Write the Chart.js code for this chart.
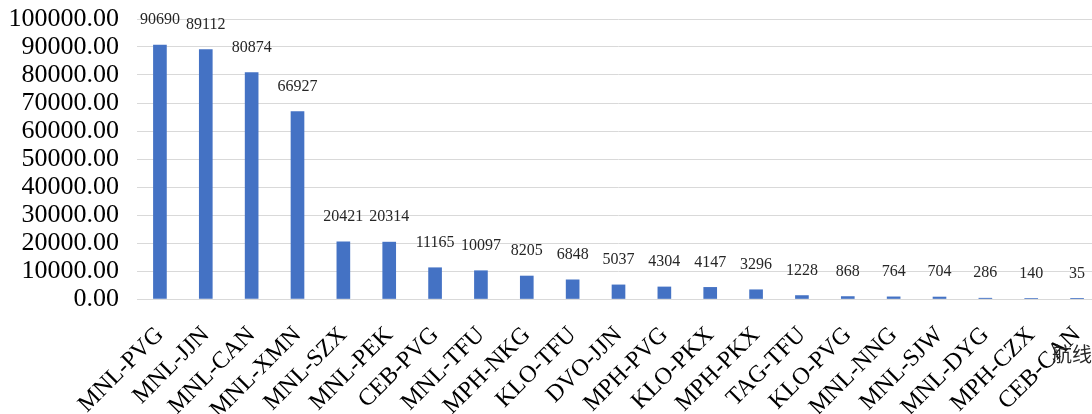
<!DOCTYPE html>
<html>
<head>
<meta charset="utf-8">
<script src="https://cdn.jsdelivr.net/npm/chart.js@4"></script>
<style>
    html, body { margin: 0; padding: 0; background: #ffffff; overflow: hidden; }
    #wrap { width: 1100px; height: 414px; position: relative; }
</style>
</head>
<body>
<div id="wrap"><canvas id="chart"></canvas></div>
<script>
// Routes and passenger counts.
const routes = [
    'MNL-PVG', 'MNL-JJN', 'MNL-CAN', 'MNL-XMN', 'MNL-SZX', 'MNL-PEK', 'CEB-PVG',
    'MNL-TFU', 'MPH-NKG', 'KLO-TFU', 'DVO-JJN', 'MPH-PVG', 'KLO-PKX', 'MPH-PKX',
    'TAG-TFU', 'KLO-PVG', 'MNL-NNG', 'MNL-SJW', 'MNL-DYG', 'MPH-CZX', 'CEB-CAN',
];
const passengers = [
    90690, 89112, 80874, 66927, 20421, 20314, 11165,
    10097, 8205, 6848, 5037, 4304, 4147, 3296,
    1228, 868, 764, 704, 286, 140, 35,
];
const yTicks = [0, 10000, 20000, 30000, 40000, 50000, 60000, 70000, 80000, 90000, 100000];
const axisTitle = '航线';

const serif = '"Liberation Serif", "Times New Roman", serif';
const barBlue = '#4472c4';
const gridGray = '#d9d9d9';

/**
 * Plain value labels above each bar plus the "航线" axis title tucked into
 * the bottom-right corner, the way the source spreadsheet places it.
 */
const valueLabels = {
    id: 'valueLabels',
    afterDatasetsDraw(chart) {
        const { ctx } = chart;
        const meta = chart.getDatasetMeta(0);
        ctx.save();
        ctx.fillStyle = '#262626';
        ctx.font = `16px ${serif}`;
        ctx.textAlign = 'center';
        ctx.textBaseline = 'middle';
        meta.data.forEach((bar, i) => {
            ctx.fillText(String(passengers[i]), bar.x, bar.y - 25);
        });
        ctx.font = '20px "Noto Sans CJK SC", sans-serif';
        ctx.textAlign = 'left';
        ctx.fillText(axisTitle, 1052, chart.chartArea.bottom + 55);
        ctx.restore();
    },
};

new Chart(document.getElementById('chart'), {
    type: 'bar',
    data: {
        labels: routes,
        datasets: [
            {
                data: passengers,
                backgroundColor: barBlue,
                barThickness: 13,
            },
        ],
    },
    options: {
        responsive: true,
        maintainAspectRatio: false,
        animation: false,
        layout: { padding: { top: 19, right: 0, left: 0, bottom: 0 } },
        scales: {
            y: {
                min: 0,
                max: 100000,
                afterBuildTicks: (s) => { s.ticks = yTicks.map((v) => ({ value: v })); },
                afterFit: (s) => {
                    s.width = 137;
                    // keep Chart.js from reserving room for the half-height of the top label
                    s.paddingTop = 0;
                    s.paddingBottom = 0;
                },
                border: { display: false },
                grid: { color: gridGray, drawTicks: false },
                ticks: {
                    color: '#000000',
                    autoSkip: false,
                    padding: 18,
                    font: { family: serif, size: 26 },
                    callback: (v) => Number(v).toFixed(2),
                },
            },
            x: {
                afterFit: (s) => {
                    s.height = 115;
                    s.paddingLeft = 0;
                    s.paddingRight = 0;
                },
                border: { color: gridGray },
                grid: { display: false },
                ticks: {
                    color: '#000000',
                    autoSkip: false,
                    maxRotation: 45,
                    minRotation: 45,
                    padding: 14,
                    font: { family: serif, size: 24 },
                },
            },
        },
        plugins: {
            legend: { display: false },
            tooltip: { enabled: false },
        },
    },
    plugins: [valueLabels],
});
</script>
</body>
</html>
